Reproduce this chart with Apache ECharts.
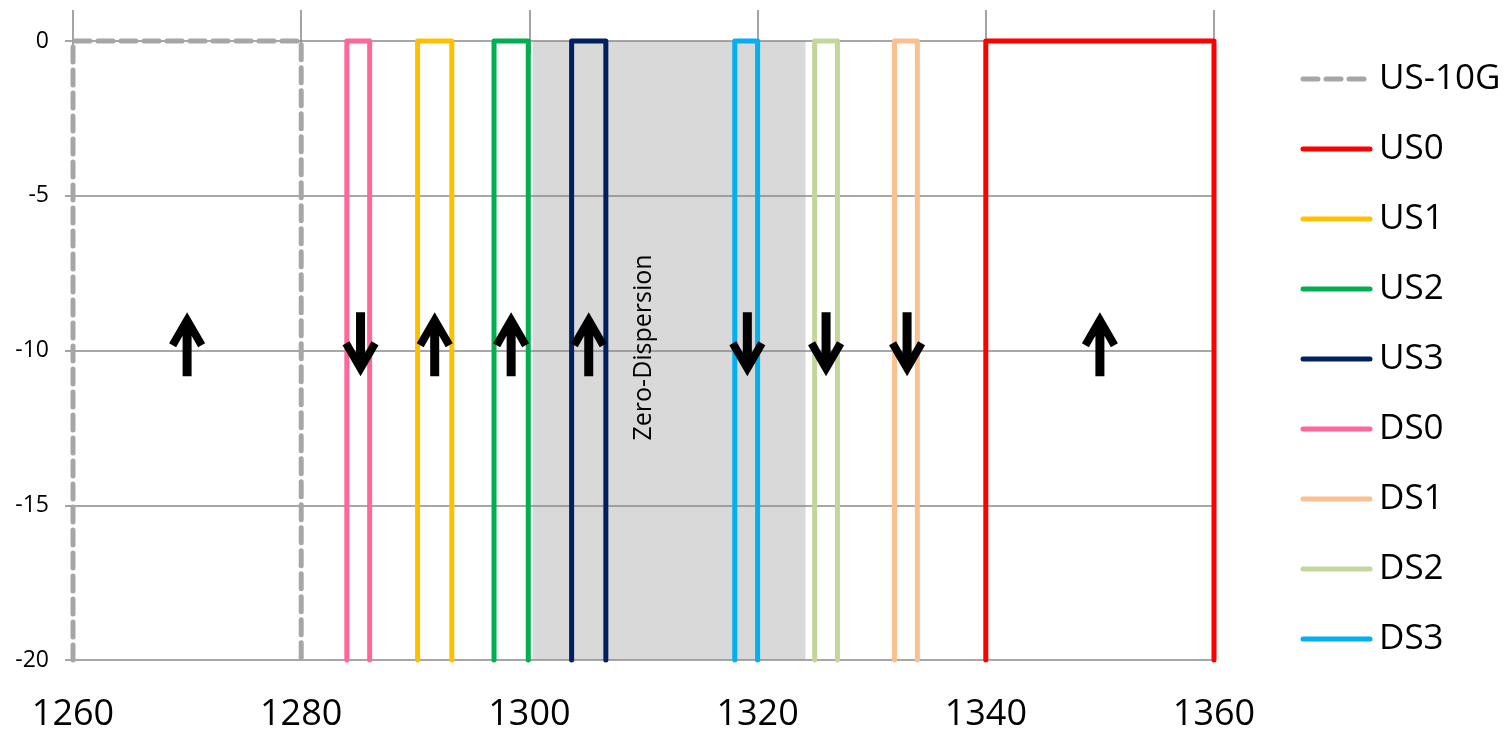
<!DOCTYPE html>
<html>
<head>
<meta charset="utf-8">
<script src="https://cdn.jsdelivr.net/npm/echarts@6/dist/echarts.min.js"></script>
<style>
html,body{margin:0;padding:0;background:#fff;}
#chart{width:1507px;height:734px;}
</style>
</head>
<body>
<div id="chart"></div>
<script>
// ---- data ----
const seriesNames = ['US-10G', 'US0', 'US1', 'US2', 'US3', 'DS0', 'DS1', 'DS2', 'DS3'];
const bandStart   = [1260, 1340, 1290.2, 1296.9, 1303.7, 1284, 1332, 1325, 1318];
const bandEnd     = [1280, 1360, 1293.2, 1299.9, 1306.7, 1286, 1334, 1327, 1320];
const bandTop = 0;
const bandBottom = -20;
const upArrowX   = [1270, 1291.7, 1298.4, 1305.2, 1350];
const downArrowX = [1285.2, 1319.1, 1326, 1333.1];
const arrowLevel = -9.8;
const zeroDispersionRange = [1300.3, 1324.2];
const zeroDispersionLabel = 'Zero-Dispersion';
const zeroDispersionLabelPos = [1310, -9.9];

// ---- styles ----
const colors = ['#a6a6a6', '#ff0000', '#ffc000', '#00b050', '#002060', '#ff6699', '#fac090', '#c4d79b', '#00b0f0'];
const FONT = '"Open Sans", "Liberation Sans", sans-serif';
const upPath = 'path://M18,0 L36,31 L29,35 L22.5,23.5 L22.5,64 L13.5,64 L13.5,23.5 L7,35 L0,31 Z';
const downPath = 'path://M18,64 L36,33 L29,29 L22.5,40.5 L22.5,0 L13.5,0 L13.5,40.5 L7,29 L0,33 Z';

const lineSeries = seriesNames.map((name, i) => ({
  name: name,
  type: 'line',
  symbol: 'none',
  clip: false,
  z: 3,
  data: [[bandStart[i], bandBottom], [bandStart[i], bandTop], [bandEnd[i], bandTop], [bandEnd[i], bandBottom]],
  lineStyle: {
    color: colors[i],
    width: 5,
    type: i === 0 ? [15, 8] : 'solid',
    cap: 'round',
    join: 'round'
  },
  itemStyle: { color: colors[i] },
  emphasis: { disabled: true }
}));

const chart = echarts.init(document.getElementById('chart'), null, { renderer: 'canvas' });
chart.setOption({
  animation: false,
  backgroundColor: '#ffffff',
  grid: { left: 73, right: 293, top: 41, bottom: 74 },
  xAxis: [{
    type: 'value', position: 'bottom', min: 1260, max: 1360, interval: 20,
    axisLine: { show: false },
    axisTick: { show: true, length: 13, lineStyle: { color: '#868686', width: 1.5 } },
    splitLine: { show: false },
    axisLabel: { fontSize: 36, fontFamily: FONT, color: '#000', margin: 37, formatter: v => String(v) }
  }, {
    type: 'value', position: 'top', min: 1260, max: 1360, interval: 20,
    axisLine: { show: false },
    axisTick: { show: true, length: 31, lineStyle: { color: '#868686', width: 1.5 } },
    splitLine: { show: false },
    axisLabel: { show: false }
  }],
  yAxis: {
    type: 'value', min: -20, max: 0, interval: 5,
    z: 1,
    axisLine: { show: false },
    axisTick: { show: true, length: 8, lineStyle: { color: '#868686', width: 1.5 } },
    splitLine: { show: true, lineStyle: { color: '#8a8a8a', width: 1.5 } },
    axisLabel: { fontSize: 23, fontFamily: FONT, color: '#000', margin: 24 }
  },
  legend: {
    data: seriesNames,
    orient: 'vertical',
    left: 1295.5,
    top: 54,
    itemWidth: 67,
    itemHeight: 14,
    itemGap: 30,
    itemStyle: { opacity: 0 },
    lineStyle: { width: 5, cap: 'round' },
    textStyle: { fontSize: 35, fontFamily: FONT, color: '#000', lineHeight: 40, padding: [0, 0, 0, 4] },
    selectedMode: false
  },
  series: [{
    name: 'zero-dispersion',
    type: 'custom',
    z: -5,
    silent: true,
    clip: false,
    data: [[zeroDispersionRange[0], zeroDispersionRange[1]]],
    encode: { x: [0, 1] },
    renderItem: function (params, api) {
      const p1 = api.coord([api.value(0), bandTop]);
      const p2 = api.coord([api.value(1), bandBottom]);
      return {
        type: 'rect',
        z2: 0,
        shape: { x: p1[0], y: p1[1], width: p2[0] - p1[0], height: p2[1] - p1[1] },
        style: { fill: '#d9d9d9' }
      };
    }
  }].concat(lineSeries).concat([{
    name: 'up',
    type: 'scatter',
    symbol: upPath,
    symbolSize: [36, 64],
    z: 4,
    itemStyle: { color: '#000', opacity: 1 },
    data: upArrowX.map(x => [x, arrowLevel]),
    silent: true
  }, {
    name: 'down',
    type: 'scatter',
    symbol: downPath,
    symbolSize: [36, 64],
    z: 4,
    itemStyle: { color: '#000', opacity: 1 },
    data: downArrowX.map(x => [x, arrowLevel]),
    silent: true
  }, {
    name: 'label',
    type: 'scatter',
    symbol: 'circle',
    symbolSize: 1,
    z: 4,
    silent: true,
    itemStyle: { color: 'rgba(0,0,0,0)', opacity: 1 },
    data: [zeroDispersionLabelPos],
    label: {
      show: true,
      position: 'inside',
      rotate: 90,
      formatter: zeroDispersionLabel,
      fontSize: 25,
      fontFamily: FONT,
      color: '#000',
      opacity: 1
    }
  }])
});
</script>
</body>
</html>
